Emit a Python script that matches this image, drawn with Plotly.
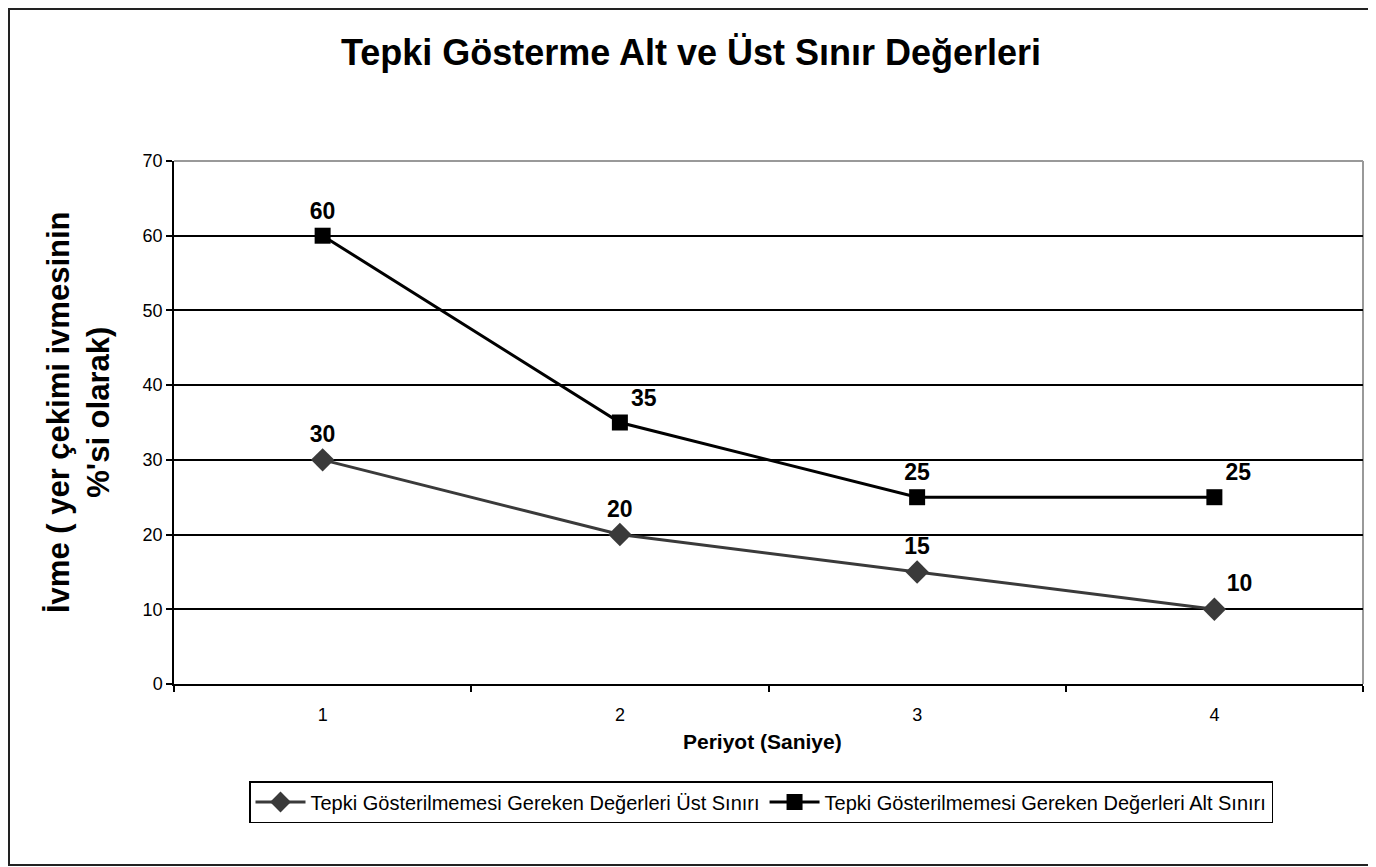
import plotly.graph_objects as go

categories = ["1", "2", "3", "4"]
ust_sinir = [30, 20, 15, 10]
alt_sinir = [60, 35, 25, 25]
y_ticks = [0, 10, 20, 30, 40, 50, 60, 70]

name_ust = "Tepki Gösterilmemesi Gereken Değerleri Üst Sınırı"
name_alt = "Tepki Gösterilmemesi Gereken Değerleri Alt Sınırı"

FONT = "Liberation Sans, Arial, sans-serif"

fig = go.Figure()
fig.add_trace(go.Scatter(
    x=categories, y=ust_sinir, name=name_ust, mode="lines+markers+text",
    line=dict(color="#3a3a3a", width=3),
    marker=dict(symbol="diamond", size=18, color="#3a3a3a"),
    text=[str(v) for v in ust_sinir],
    textposition=["top center", "top center", "top center", "top right"],
    textfont=dict(family=FONT, size=23, color="black", weight="bold"),
))
fig.add_trace(go.Scatter(
    x=categories, y=alt_sinir, name=name_alt, mode="lines+markers+text",
    line=dict(color="black", width=3),
    marker=dict(symbol="square", size=16, color="black"),
    text=[str(v) for v in alt_sinir],
    textposition=["top center", "top right", "top center", "top right"],
    textfont=dict(family=FONT, size=23, color="black", weight="bold"),
))

# page body has an 8px margin; figure is placed at (8, 8) in the window
OFF = 8
SCR_W, SCR_H = 1376, 867
W, H = SCR_W - OFF, SCR_H - OFF
PL, PR, PT, PB = 174, 1363, 161, 684  # plot area in window pixels
L, T = PL - OFF, PT - OFF
R, B = SCR_W - PR, SCR_H - PB
pw, ph = PR - PL, PB - PT

def px_x(p):
    return (p - PL) / pw

def px_y(p):
    return (PB - p) / ph

fig.update_layout(
    width=W, height=H,
    margin=dict(l=L, r=R, t=T, b=B, pad=0),
    paper_bgcolor="white", plot_bgcolor="white",
    font=dict(family=FONT, color="black"),
    title=dict(text="Tepki Gösterme Alt ve Üst Sınır Değerleri",
               font=dict(family=FONT, size=36, color="black", weight="bold"),
               x=(691 - OFF) / W, xanchor="center",
               y=1 - (52 - OFF) / H, yanchor="middle"),
    showlegend=True,
    legend=dict(orientation="h", x=px_x(761), xanchor="center",
                y=px_y(802), yanchor="middle",
                font=dict(family=FONT, size=20, color="black"),
                bordercolor="black", borderwidth=1.5, bgcolor="white",
                itemwidth=50, tracegroupgap=0),
    xaxis=dict(type="category", tickson="boundaries", ticks="outside",
               range=[-0.5, 3.5],
               ticklen=6, tickcolor="black", tickwidth=1.5,
               showline=True, linecolor="black", linewidth=1.5,
               showgrid=False, zeroline=False,
               tickfont=dict(family=FONT, size=18, color="black"),
               ticklabelstandoff=14, fixedrange=True),
    yaxis=dict(range=[0, 70], tickvals=y_ticks, ticks="outside", ticklen=6,
               tickcolor="black", tickwidth=1.5,
               showline=True, linecolor="black", linewidth=1.5,
               showgrid=True, gridcolor="black", gridwidth=1.5,
               zeroline=False,
               tickfont=dict(family=FONT, size=18, color="black"),
               fixedrange=True),
    annotations=[
        dict(text="İvme ( yer çekimi ivmesinin<br>%'si olarak)",
             xref="paper", yref="paper", x=px_x(78), y=px_y(412),
             xanchor="center", yanchor="middle", textangle=-90,
             showarrow=False,
             font=dict(family=FONT, size=31, color="black", weight="bold")),
        dict(text="Periyot (Saniye)", xref="paper", yref="paper",
             x=px_x(762), y=px_y(741), xanchor="center", yanchor="middle",
             showarrow=False,
             font=dict(family=FONT, size=21, color="black", weight="bold")),
    ],
    shapes=[
        dict(type="line", xref="paper", yref="paper", x0=0, x1=1, y0=1, y1=1,
             line=dict(color="#999999", width=2), layer="below"),
        dict(type="line", xref="paper", yref="paper", x0=1, x1=1, y0=0, y1=1,
             line=dict(color="#999999", width=2), layer="below"),
        dict(type="rect", xref="paper", yref="paper",
             x0=px_x(9), x1=px_x(1373), y0=px_y(865), y1=px_y(9),
             line=dict(color="#222222", width=2), fillcolor="rgba(0,0,0,0)"),
    ],
)

fig.write_html("out.html")
